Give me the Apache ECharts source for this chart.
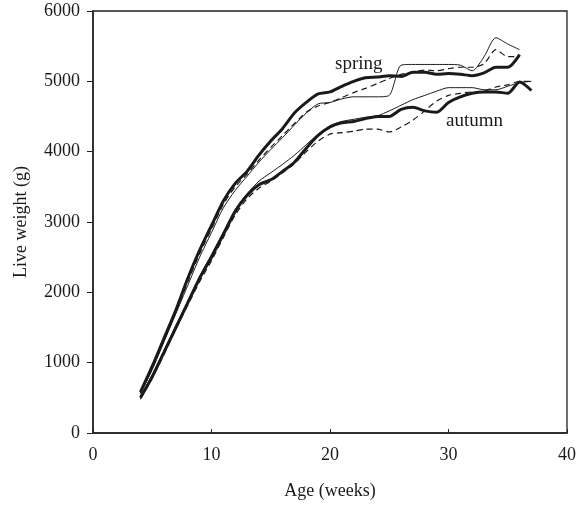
<!DOCTYPE html>
<html>
<head>
<meta charset="utf-8">
<style>
  html, body { margin: 0; padding: 0; background: #fff; }
  #chart { width: 579px; height: 507px; }
</style>
<script src="https://cdn.jsdelivr.net/npm/echarts@6/dist/echarts.min.js"></script>
</head>
<body>
<div id="chart"></div>
<script>
// ages (weeks)
var springWeeks = [4,5,6,7,8,9,10,11,12,13,14,15,16,17,18,19,20,21,22,23,24,25,26,27,28,29,30,31,32,33,34,35,36];
var autumnWeeks = [4,5,6,7,8,9,10,11,12,13,14,15,16,17,18,19,20,21,22,23,24,25,26,27,28,29,30,31,32,33,34,35,36,37];

// live weight (g)
var springThick  = [580,950,1350,1750,2200,2600,2950,3300,3550,3720,3950,4150,4330,4550,4700,4820,4850,4930,5000,5050,5060,5080,5070,5130,5130,5100,5110,5100,5080,5120,5200,5200,5380];
var springThin   = [560,900,1300,1700,2100,2500,2850,3200,3450,3650,3850,4030,4200,4380,4550,4680,4700,4750,4780,4780,4780,4800,5230,5240,5240,5240,5240,5230,5150,5350,5620,5530,5450];
var springDashed = [570,920,1320,1720,2150,2550,2900,3250,3500,3680,3880,4060,4230,4400,4560,4650,4700,4770,4840,4900,4970,5040,5100,5130,5160,5150,5180,5200,5200,5250,5450,5350,5350];

var autumnThick  = [500,800,1150,1500,1850,2200,2500,2820,3150,3380,3530,3600,3720,3850,4050,4230,4350,4410,4430,4470,4500,4500,4600,4630,4580,4560,4700,4780,4830,4850,4850,4830,4990,4870];
var autumnThin   = [520,830,1180,1530,1880,2230,2540,2860,3180,3400,3580,3700,3820,3950,4100,4250,4370,4430,4460,4490,4510,4580,4660,4740,4800,4860,4910,4910,4910,4880,4880,4930,4980,5000];
var autumnDashed = [480,780,1120,1480,1820,2150,2450,2780,3100,3330,3480,3580,3700,3830,4000,4150,4250,4270,4290,4320,4320,4280,4350,4450,4580,4720,4800,4830,4850,4860,4920,4950,5000,5000];

var xTicks = [0, 10, 20, 30, 40];
var yTicks = [0, 1000, 2000, 3000, 4000, 5000, 6000];

var serif = '"Liberation Serif", "DejaVu Serif", serif';
var ink = '#1a1a1a';

function pairs(weeks, values) {
	var out = [];
	for (var i = 0; i < weeks.length; i++) {
		out.push([weeks[i], values[i]]);
	}
	return out;
}

function line(name, weeks, values, width, type) {
	return {
		name: name,
		type: 'line',
		data: pairs(weeks, values),
		smooth: 0.25,
		symbol: 'none',
		silent: true,
		lineStyle: { color: ink, width: width, type: type }
	};
}

var chart = echarts.init(document.getElementById('chart'));

chart.setOption({
	animation: false,
	backgroundColor: '#fff',
	grid: {
		left: 93, right: 10, top: 11, bottom: 74,
		show: true, borderColor: '#222', borderWidth: 1.3, backgroundColor: 'transparent'
	},
	xAxis: {
		type: 'value',
		min: xTicks[0], max: xTicks[xTicks.length - 1], interval: 10,
		name: 'Age (weeks)', nameLocation: 'middle', nameGap: 49,
		nameTextStyle: { fontFamily: serif, fontSize: 18, color: ink },
		axisLine: { lineStyle: { color: '#222', width: 1.5 } },
		axisTick: { inside: true, length: 4, lineStyle: { color: '#222' } },
		axisLabel: { margin: 13, fontFamily: serif, fontSize: 18, color: ink },
		splitLine: { show: false }
	},
	yAxis: {
		type: 'value',
		min: yTicks[0], max: yTicks[yTicks.length - 1], interval: 1000,
		name: 'Live weight (g)', nameLocation: 'middle', nameGap: 63,
		nameTextStyle: { fontFamily: serif, fontSize: 18, color: ink },
		axisLine: { show: true, lineStyle: { color: '#222', width: 1.5 } },
		axisTick: { show: true, length: 6, lineStyle: { color: '#222' } },
		axisLabel: {
			margin: 13, fontFamily: serif, fontSize: 18, color: ink,
			formatter: function (v) { return String(v); }
		},
		splitLine: { show: false }
	},
	// season labels
	graphic: [
		{ type: 'text', left: 335, top: 55, style: { text: 'spring', font: '19px ' + serif, fill: ink } },
		{ type: 'text', left: 446, top: 112, style: { text: 'autumn', font: '19px ' + serif, fill: ink } }
	],
	series: [
		line('spring thick', springWeeks, springThick, 3, 'solid'),
		line('spring thin', springWeeks, springThin, 1, 'solid'),
		line('spring dashed', springWeeks, springDashed, 1.2, [6, 4]),
		line('autumn thick', autumnWeeks, autumnThick, 3, 'solid'),
		line('autumn thin', autumnWeeks, autumnThin, 1, 'solid'),
		line('autumn dashed', autumnWeeks, autumnDashed, 1.2, [6, 4])
	]
});
</script>
</body>
</html>
